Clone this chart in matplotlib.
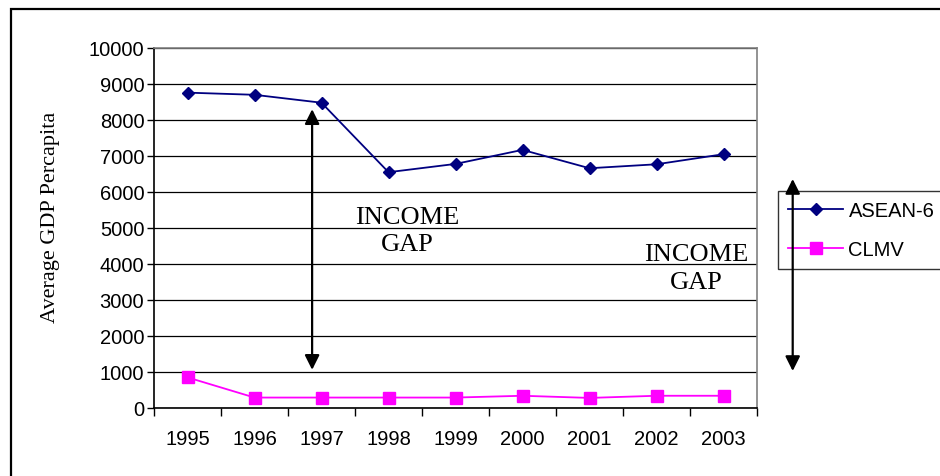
import matplotlib
matplotlib.use("Agg")
import matplotlib.pyplot as plt
from matplotlib.patches import Rectangle, FancyArrowPatch

# Average GDP per capita by group
years = ["1995", "1996", "1997", "1998", "1999", "2000", "2001", "2002", "2003"]
asean6 = [8760, 8700, 8480, 6550, 6780, 7170, 6660, 6770, 7050]
clmv = [850, 290, 290, 290, 290, 340, 280, 340, 340]
series_names = ["ASEAN-6", "CLMV"]
y_ticks = [0, 1000, 2000, 3000, 4000, 5000, 6000, 7000, 8000, 9000, 10000]

W, H = 940, 477
fig = plt.figure(figsize=(W / 100, H / 100), dpi=100)
fig.patch.set_facecolor("white")

def fx(px):
    return px / W

def fy(py):
    return 1 - py / H

# outer chart-area frame (runs off the right and bottom edges)
fig.patches.append(Rectangle((fx(10.5), fy(H + 20)), 1.2, fy(9.5) - fy(H + 20),
                             transform=fig.transFigure, fill=False,
                             edgecolor="black", linewidth=1.6))

ax = fig.add_axes([fx(154), fy(409), fx(757) - fx(154), fy(49) - fy(409)])
x = list(range(len(years)))

ax.plot(x, asean6, color="#000080", marker="D", markersize=6.5, linewidth=1.3,
        label=series_names[0], zorder=3)
ax.plot(x, clmv, color="#FF00FF", marker="s", markersize=8, linewidth=1.3,
        label=series_names[1], zorder=3)

ax.set_xlim(-0.5, len(years) - 0.5)
ax.set_ylim(0, 10000)
ax.set_yticks(y_ticks)
ax.set_yticklabels([str(v) for v in y_ticks], fontsize=14.5,
                   family="Liberation Sans")
ax.yaxis.grid(True, color="black", linewidth=0.9)
ax.set_axisbelow(True)

# category boundaries carry the tick marks, labels sit between them
ax.set_xticks([i - 0.5 for i in range(len(years) + 1)])
ax.set_xticklabels([])
ax.set_xticks(x, minor=True)
ax.set_xticklabels(years, minor=True, fontsize=14.5, family="Liberation Sans")
ax.tick_params(axis="x", which="major", direction="out", length=6, width=1)
ax.tick_params(axis="x", which="minor", length=0, pad=15)
ax.tick_params(axis="y", direction="out", length=5, width=1, pad=2)

for side in ("top", "right"):
    ax.spines[side].set_color("#808080")
    ax.spines[side].set_linewidth(1.2)
for side in ("left", "bottom"):
    ax.spines[side].set_color("black")
    ax.spines[side].set_linewidth(1.2)

ax.set_ylabel("Average GDP Percapita", family="Liberation Serif", fontsize=16)
ax.yaxis.set_label_coords(-(154 - 60) / (757 - 154), (409 - 217) / (409 - 49))

# income gap annotations
arrow_kw = dict(arrowstyle="<|-|>", color="black", lw=1.6,
                mutation_scale=22, shrinkA=0, shrinkB=0)
ax.annotate("", xy=(1.86, 8300), xytext=(1.86, 1060), arrowprops=arrow_kw,
            zorder=4)
ax.text(3.28, 4940, "INCOME\nGAP", ha="center", va="center",
        family="Liberation Serif", fontsize=19, linespacing=1.3)
ax.text(7.59, 3890, "INCOME\nGAP", ha="center", va="center",
        family="Liberation Serif", fontsize=19, linespacing=1.3)

leg = fig.legend(loc="upper left",
                 bbox_to_anchor=(fx(778), fy(191.7) - 0.2, fx(1000) - fx(778), 0.2),
                 bbox_transform=fig.transFigure, mode="expand",
                 frameon=True, fancybox=False, borderaxespad=0,
                 prop={"family": "Liberation Sans", "size": 14.5},
                 handlelength=2.75, handletextpad=0.25, labelspacing=1.0,
                 borderpad=0.5)
leg.get_frame().set_edgecolor("black")
leg.get_frame().set_linewidth(1.0)

fig.add_artist(FancyArrowPatch(
    (fx(792.7), fy(372)), (fx(792.7), fy(180)), transform=fig.transFigure,
    **arrow_kw, zorder=10))

fig.savefig("out.png", dpi=100)
